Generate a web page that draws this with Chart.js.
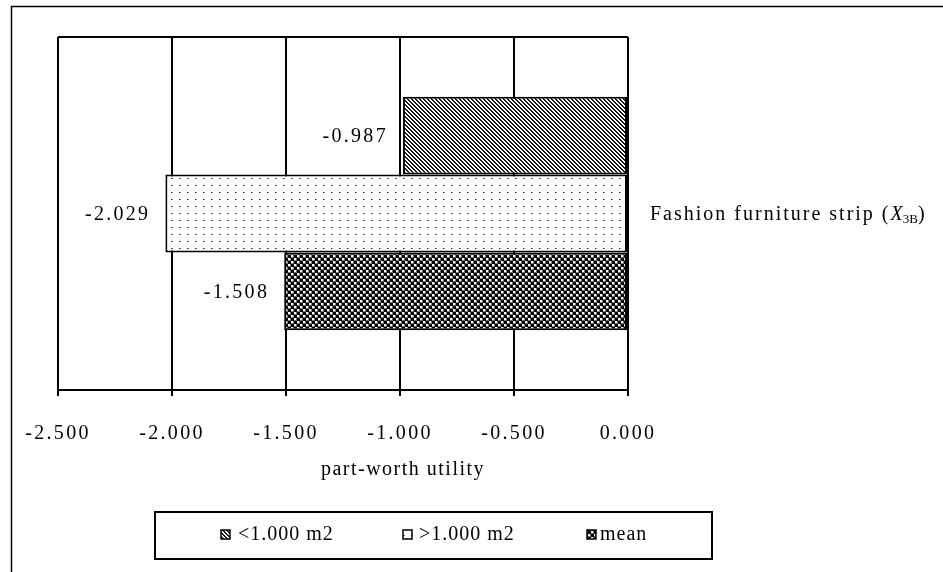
<!DOCTYPE html>
<html>
<head>
<meta charset="utf-8">
<script src="https://cdn.jsdelivr.net/npm/chart.js@4"></script>
<style>
  html, body { margin: 0; padding: 0; background: #fff; }
  #wrap { width: 943px; height: 572px; }
</style>
</head>
<body>
<div id="wrap"><canvas id="chart" width="943" height="572"></canvas></div>
<script>
// datos
const categorias = ['Fashion furniture strip'];
const series = ['<1.000 m2', '>1.000 m2', 'mean'];
const valoresMenor = [-0.987];
const valoresMayor = [-2.029];
const valoresMedia = [-1.508];
const ticksX = [-2.5, -2.0, -1.5, -1.0, -0.5, 0.0];
const tituloX = 'part-worth utility';

const FUENTE = '"Liberation Serif", "Times New Roman", serif';

// patrones de relleno tipo Excel
function crearPatron(w, h, dibujar) {
    const c = document.createElement('canvas');
    c.width = w;
    c.height = h;
    const ctx = c.getContext('2d');
    dibujar(ctx);
    return document.getElementById('chart').getContext('2d').createPattern(c, 'repeat');
}

const rayado = crearPatron(4, 4, function (ctx) {
    ctx.fillStyle = '#fff';
    ctx.fillRect(0, 0, 4, 4);
    ctx.fillStyle = '#1a1a1a';
    for (let i = 0; i < 4; i++) {
        ctx.fillRect(i, i, 1, 1);
        ctx.fillRect((i + 1) % 4, i, 1, 1);
    }
});

const punteado = crearPatron(8, 7, function (ctx) {
    ctx.fillStyle = '#fff';
    ctx.fillRect(0, 0, 8, 7);
    ctx.fillStyle = '#222';
    ctx.fillRect(3, 3, 1, 1);
    ctx.fillStyle = '#888';
    ctx.fillRect(4, 3, 1, 1);
});

const cuadros = crearPatron(6, 6, function (ctx) {
    ctx.fillStyle = '#000';
    ctx.fillRect(0, 0, 6, 6);
    ctx.fillStyle = '#777';
    ctx.fillRect(0, 0, 3, 3);
    ctx.fillRect(3, 3, 3, 3);
    ctx.fillStyle = '#fff';
    ctx.fillRect(0, 0, 2, 2);
    ctx.fillRect(3, 3, 2, 2);
});

const patrones = [rayado, punteado, cuadros];

// marco exterior, borde superior, etiquetas y leyenda
const marcoPlugin = {
    id: 'marco',
    beforeDraw(chart) {
        // espaciado de letras de las etiquetas del eje
        chart.ctx.letterSpacing = '2.3px';
    },
    afterDraw(chart) {
        const ctx = chart.ctx;
        const a = chart.chartArea;
        ctx.save();
        ctx.strokeStyle = '#000';
        ctx.lineWidth = 1.5;
        ctx.beginPath();
        ctx.moveTo(11.5, 572);
        ctx.lineTo(11.5, 6.5);
        ctx.lineTo(943, 6.5);
        ctx.stroke();

        ctx.lineWidth = 2;
        ctx.beginPath();
        ctx.moveTo(a.left, a.top);
        ctx.lineTo(a.right, a.top);
        ctx.stroke();

        // etiquetas de valores
        ctx.font = '20px ' + FUENTE;
        ctx.letterSpacing = '2.3px';
        ctx.fillStyle = '#000';
        ctx.textAlign = 'right';
        ctx.textBaseline = 'middle';
        chart.data.datasets.forEach(function (ds, i) {
            const meta = chart.getDatasetMeta(i);
            meta.data.forEach(function (bar, j) {
                ctx.fillText(ds.data[j].toFixed(3), bar.x - 15, bar.y + 1);
            });
        });

        // titulo del eje
        ctx.textAlign = 'center';
        ctx.font = '20px ' + FUENTE;
        ctx.letterSpacing = '1.5px';
        ctx.fillText(tituloX, 403, 470);

        // etiqueta de categoria con subindice
        const y = chart.scales.y.getPixelForValue(0);
        let x = a.right + 22;
        ctx.textAlign = 'left';
        ctx.letterSpacing = '2px';
        ctx.font = '20px ' + FUENTE;
        const base = categorias[0] + ' (';
        ctx.fillText(base, x, y + 1);
        x += ctx.measureText(base).width;
        ctx.letterSpacing = '0px';
        ctx.font = 'italic 20px ' + FUENTE;
        ctx.fillText('X', x, y + 1);
        x += ctx.measureText('X').width;
        ctx.font = '13px ' + FUENTE;
        ctx.fillText('3B', x, y + 6);
        x += ctx.measureText('3B').width;
        ctx.font = '20px ' + FUENTE;
        ctx.fillText(')', x, y + 1);

        // leyenda
        ctx.lineWidth = 2;
        ctx.strokeRect(155, 512, 557, 47);
        const cajas = [221, 403, 587];
        const textos = [238, 419, 600];
        ctx.font = '20px ' + FUENTE;
        ctx.letterSpacing = '1px';
        chart.data.datasets.forEach(function (ds, i) {
            ctx.fillStyle = ds.backgroundColor;
            ctx.fillRect(cajas[i], 530, 9, 9);
            ctx.lineWidth = 1.5;
            ctx.strokeRect(cajas[i], 530, 9, 9);
            ctx.fillStyle = '#000';
            ctx.fillText(ds.label, textos[i], 535);
        });
        ctx.restore();
    }
};

const valores = [valoresMenor, valoresMayor, valoresMedia];

new Chart(document.getElementById('chart'), {
    type: 'bar',
    data: {
        labels: categorias,
        datasets: series.map(function (nombre, i) {
            return {
                label: nombre,
                data: valores[i],
                backgroundColor: patrones[i],
                borderColor: '#000',
                borderWidth: 2,
                borderSkipped: false,
                barPercentage: 1.0,
                categoryPercentage: 0.662
            };
        })
    },
    options: {
        indexAxis: 'y',
        responsive: false,
        animation: false,
        layout: {
            padding: { top: 37, left: 58, right: 315, bottom: 100 }
        },
        plugins: {
            legend: { display: false },
            tooltip: { enabled: false }
        },
        scales: {
            x: {
                min: -2.5,
                max: 0,
                afterBuildTicks: function (scale) {
                    scale.ticks = ticksX.map(function (v) { return { value: v }; });
                },
                grid: {
                    color: '#000',
                    lineWidth: 2,
                    tickLength: 6
                },
                border: { color: '#000', width: 2 },
                ticks: {
                    padding: 26,
                    color: '#000',
                    font: { family: FUENTE, size: 20 },
                    maxRotation: 0,
                    callback: function (v) { return Number(v).toFixed(3); }
                }
            },
            y: {
                display: false,
                position: 'right'
            }
        }
    },
    plugins: [marcoPlugin]
});
</script>
</body>
</html>
